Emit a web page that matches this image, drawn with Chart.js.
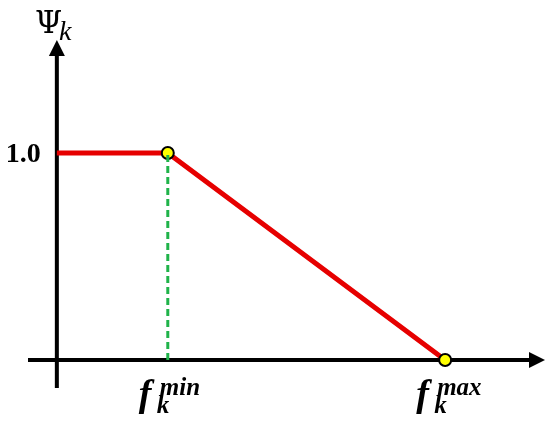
<!DOCTYPE html>
<html>
<head>
<meta charset="utf-8">
<script src="https://cdn.jsdelivr.net/npm/chart.js@4"></script>
<style>
  html, body { margin: 0; padding: 0; background: #fff; }
  #wrap { width: 550px; height: 423px; }
  canvas { display: block; }
</style>
</head>
<body>
<div id="wrap"><canvas id="chart"></canvas></div>
<script>
// data
const fValues = [0, 1, 3.5];      // 0, f_k^min, f_k^max
const psiValues = [1, 1, 0];      // Psi_k at those points
const markerIndex = [1, 2];       // yellow circles
const yTick = 1.0;
const yTickLabel = '1.0';
const xTickLabels = [{ at: 1, sup: 'min' }, { at: 3.5, sup: 'max' }];

const curve = fValues.map((f, i) => ({ x: f, y: psiValues[i] }));
const guide = [{ x: fValues[1], y: 0 }, { x: fValues[1], y: psiValues[1] }];

// axes with arrows + labels
const axesPlugin = {
  id: 'axes',
  beforeDatasetsDraw(chart) {
    const { ctx, chartArea: a, scales: { x, y } } = chart;
    const x0 = x.getPixelForValue(0), y0 = y.getPixelForValue(0);
    ctx.save();
    ctx.strokeStyle = '#000';
    ctx.fillStyle = '#000';
    ctx.lineWidth = 4;
    ctx.beginPath();
    ctx.moveTo(a.left, y0); ctx.lineTo(a.right - 12, y0);
    ctx.moveTo(x0, a.bottom); ctx.lineTo(x0, a.top + 12);
    ctx.stroke();
    // arrow heads
    ctx.beginPath();
    ctx.moveTo(a.right, y0); ctx.lineTo(a.right - 16, y0 - 8); ctx.lineTo(a.right - 16, y0 + 8);
    ctx.closePath(); ctx.fill();
    ctx.beginPath();
    ctx.moveTo(x0, a.top); ctx.lineTo(x0 - 8, a.top + 16); ctx.lineTo(x0 + 8, a.top + 16);
    ctx.closePath(); ctx.fill();
    ctx.restore();
  },
  afterDraw(chart) {
    const { ctx, scales: { x, y } } = chart;
    const x0 = x.getPixelForValue(0);
    ctx.save();
    ctx.fillStyle = '#000';
    // y tick
    ctx.font = 'bold 28px "Liberation Serif"';
    ctx.textAlign = 'right';
    ctx.textBaseline = 'middle';
    ctx.fillText(yTickLabel, x0 - 16, y.getPixelForValue(yTick) + 2);
    // y title
    ctx.textBaseline = 'alphabetic';
    ctx.textAlign = 'left';
    ctx.font = '31px "DejaVu Serif"';
    ctx.fillText('Ψ', 35, 33);
    ctx.font = 'italic 28px "Liberation Serif"';
    ctx.fillText('k', 59, 40);
    // x ticks
    xTickLabels.forEach(t => {
      const px = x.getPixelForValue(t.at);
      const left = px - 29;
      ctx.font = 'bold italic 38px "Liberation Serif"';
      ctx.fillText('f', left, 406);
      ctx.font = 'bold italic 25px "Liberation Serif"';
      ctx.fillText('k', left + 18, 413);
      ctx.fillText(t.sup, left + 21, 395);
    });
    ctx.restore();
  }
};

new Chart(document.getElementById('chart'), {
  type: 'scatter',
  data: {
    datasets: [
      {
        data: guide,
        showLine: true,
        borderColor: '#1fb34a',
        borderWidth: 3,
        borderDash: [7, 4],
        pointRadius: 0
      },
      {
        data: curve,
        showLine: true,
        borderColor: '#e60000',
        borderWidth: 5,
        pointRadius: curve.map((p, i) => markerIndex.includes(i) ? 6 : 0),
        pointBackgroundColor: '#ffff00',
        pointBorderColor: '#000',
        pointBorderWidth: 2,
        clip: false
      }
    ]
  },
  options: {
    responsive: true,
    maintainAspectRatio: false,
    animation: false,
    layout: { autoPadding: false, padding: { left: 28, right: 5, top: 40, bottom: 35 } },
    plugins: { legend: { display: false }, tooltip: { enabled: false } },
    scales: {
      x: { type: 'linear', display: false, min: -0.26, max: 4.4 },
      y: { type: 'linear', display: false, min: -0.135, max: 1.546 }
    }
  },
  plugins: [axesPlugin]
});
</script>
</body>
</html>
